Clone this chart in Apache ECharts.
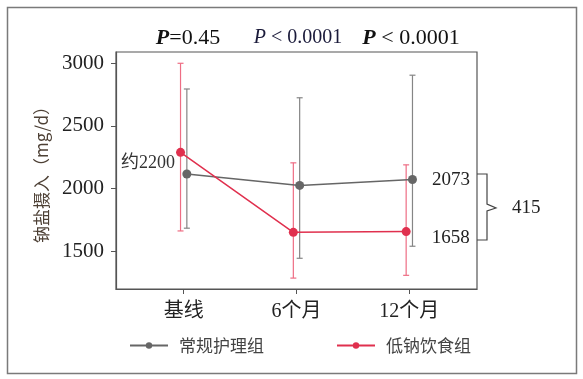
<!DOCTYPE html>
<html>
<head>
<meta charset="utf-8">
<script src="https://cdn.jsdelivr.net/npm/echarts@6/dist/echarts.min.js"></script>
<style>
html,body{margin:0;padding:0;background:#fff;}
#chart{width:583px;height:379px;}
</style>
</head>
<body>
<div id="chart"></div>
<script>
const categories = ['基线', '6个月', '12个月'];
const seriesNames = ['常规护理组', '低钠饮食组'];
const routineMean = [2117, 2026, 2073];
const routineLow = [1685, 1445, 1541];
const routineHigh = [2795, 2725, 2905];
const lowSodiumMean = [2290, 1652, 1658];
const lowSodiumLow = [1663, 1287, 1309];
const lowSodiumHigh = [3000, 2206, 2190];
const yTicks = [1500, 2000, 2500, 3000];
const pLabels = [['P', '=0.45'], ['P', ' < 0.0001'], ['P', ' < 0.0001']];
const diffLabel = '415';
const approxLabel = '约2200';

const GRAY = '#666666';
const RED = '#e0304e';
const SERIF = 'Liberation Serif, Noto Sans CJK SC, serif';
const dodge = 0.028;

const chart = echarts.init(document.getElementById('chart'));

function errData(low, high, off) {
  return categories.map((c, i) => [i + off, low[i], high[i]]);
}
function errSeries(name, low, high, off, color) {
  return {
    type: 'custom',
    name: name + '_err',
    data: errData(low, high, off),
    z: 1,
    silent: true,
    renderItem: function (params, api) {
      const x = api.value(0);
      const lo = api.coord([x, api.value(1)]);
      const hi = api.coord([x, api.value(2)]);
      const hw = 3;
      const style = { stroke: color, lineWidth: 1.2 };
      return {
        type: 'group',
        children: [
          { type: 'line', shape: { x1: lo[0], y1: lo[1], x2: hi[0], y2: hi[1] }, style: style },
          { type: 'line', shape: { x1: lo[0] - hw, y1: lo[1], x2: lo[0] + hw, y2: lo[1] }, style: style },
          { type: 'line', shape: { x1: hi[0] - hw, y1: hi[1], x2: hi[0] + hw, y2: hi[1] }, style: style }
        ]
      };
    }
  };
}

const option = {
  animation: false,
  backgroundColor: '#fff',
  textStyle: { fontFamily: SERIF },
  grid: { left: 116, top: 52, right: 106, bottom: 90, show: true, borderColor: '#555', borderWidth: 1.2 },
  legend: {
    data: seriesNames,
    left: 124, top: 332,
    itemWidth: 38, itemHeight: 8, itemGap: 72,
    textStyle: { fontSize: 17, color: '#444', fontFamily: 'Noto Sans CJK SC, sans-serif', padding: [0, 0, 0, 6] }
  },
  xAxis: {
    type: 'value', min: -0.6, max: 2.6,
    splitLine: { show: false },
    axisLine: { onZero: false, lineStyle: { color: '#555', width: 1.2 } },
    axisTick: { show: true, customValues: [0, 1, 2], length: 5, lineStyle: { color: '#555' } },
    axisLabel: {
      customValues: [0, 1, 2], margin: 13,
      formatter: v => categories[Math.round(v)],
      fontSize: 20, color: '#222', fontFamily: SERIF
    }
  },
  yAxis: {
    type: 'value', min: 1200, max: 3090,
    name: '钠盐摄入（mg/d）', nameLocation: 'middle', nameRotate: 90, nameGap: 66,
    nameTextStyle: { fontSize: 17, color: '#4d4035', fontFamily: 'Noto Sans CJK SC, Liberation Serif, sans-serif' },
    splitLine: { show: false },
    axisLine: { show: true, onZero: false, lineStyle: { color: '#555', width: 1.2 } },
    axisTick: { show: true, customValues: yTicks, length: 5, lineStyle: { color: '#555' } },
    axisLabel: { customValues: yTicks, margin: 12, fontSize: 21, color: '#222', fontFamily: SERIF, formatter: v => String(v) }
  },
  series: [
    errSeries(seriesNames[0], routineLow, routineHigh, dodge, '#858585'),
    errSeries(seriesNames[1], lowSodiumLow, lowSodiumHigh, -dodge, '#ee6d84'),
    {
      type: 'line', name: seriesNames[0], z: 3,
      data: routineMean.map((v, i) => [i + dodge, v]),
      symbol: 'circle', symbolSize: 9,
      lineStyle: { color: GRAY, width: 1.5 },
      itemStyle: { color: GRAY },
      label: {
        show: true, position: 'right', distance: 15,
        fontSize: 19, color: '#222', fontFamily: SERIF,
        formatter: p => p.dataIndex === 2 ? String(p.value[1]) : ''
      }
    },
    {
      type: 'line', name: seriesNames[1], z: 4,
      data: lowSodiumMean.map((v, i) => [i - dodge, v]),
      symbol: 'circle', symbolSize: 9,
      lineStyle: { color: RED, width: 1.5 },
      itemStyle: { color: RED },
      label: {
        show: true, position: 'right', distance: 21, offset: [0, 6],
        fontSize: 19, color: '#222', fontFamily: SERIF,
        formatter: p => p.dataIndex === 2 ? String(p.value[1]) : ''
      }
    }
  ],
  graphic: [
    { type: 'rect', shape: { x: 7.5, y: 7.5, width: 569, height: 366 }, style: { fill: 'none', stroke: '#7a7a7a', lineWidth: 1.5 }, z: 10 },
    { type: 'polyline', shape: { points: [[477, 174], [487, 174], [487, 204], [496, 208], [487, 211], [487, 240], [477, 240]] }, style: { fill: 'none', stroke: '#444', lineWidth: 1.2 } },
    { type: 'text', x: 512, y: 208, style: { text: diffLabel, font: '19px ' + SERIF, fill: '#222', verticalAlign: 'middle' } },
    { type: 'text', x: 121, y: 163, style: { text: approxLabel, font: '18px ' + SERIF, fill: '#333', verticalAlign: 'middle' } }
  ].concat(pLabels.map((p, i) => ({
    type: 'text', x: [188, 298, 411][i], y: 38,
    style: {
      text: '{i|' + p[0] + '}{n|' + p[1] + '}',
      align: 'center', verticalAlign: 'middle',
      rich: {
        i: { fontSize: i === 1 ? 20 : 22, fontStyle: 'italic', fontFamily: SERIF, fill: i === 1 ? '#1a1a3a' : '#111', fontWeight: i === 1 ? 'normal' : 'bold' },
        n: { fontSize: i === 1 ? 20 : 22, fontFamily: SERIF, fill: i === 1 ? '#1a1a3a' : '#111' }
      }
    }
  })))
};
chart.setOption(option);
</script>
</body>
</html>
